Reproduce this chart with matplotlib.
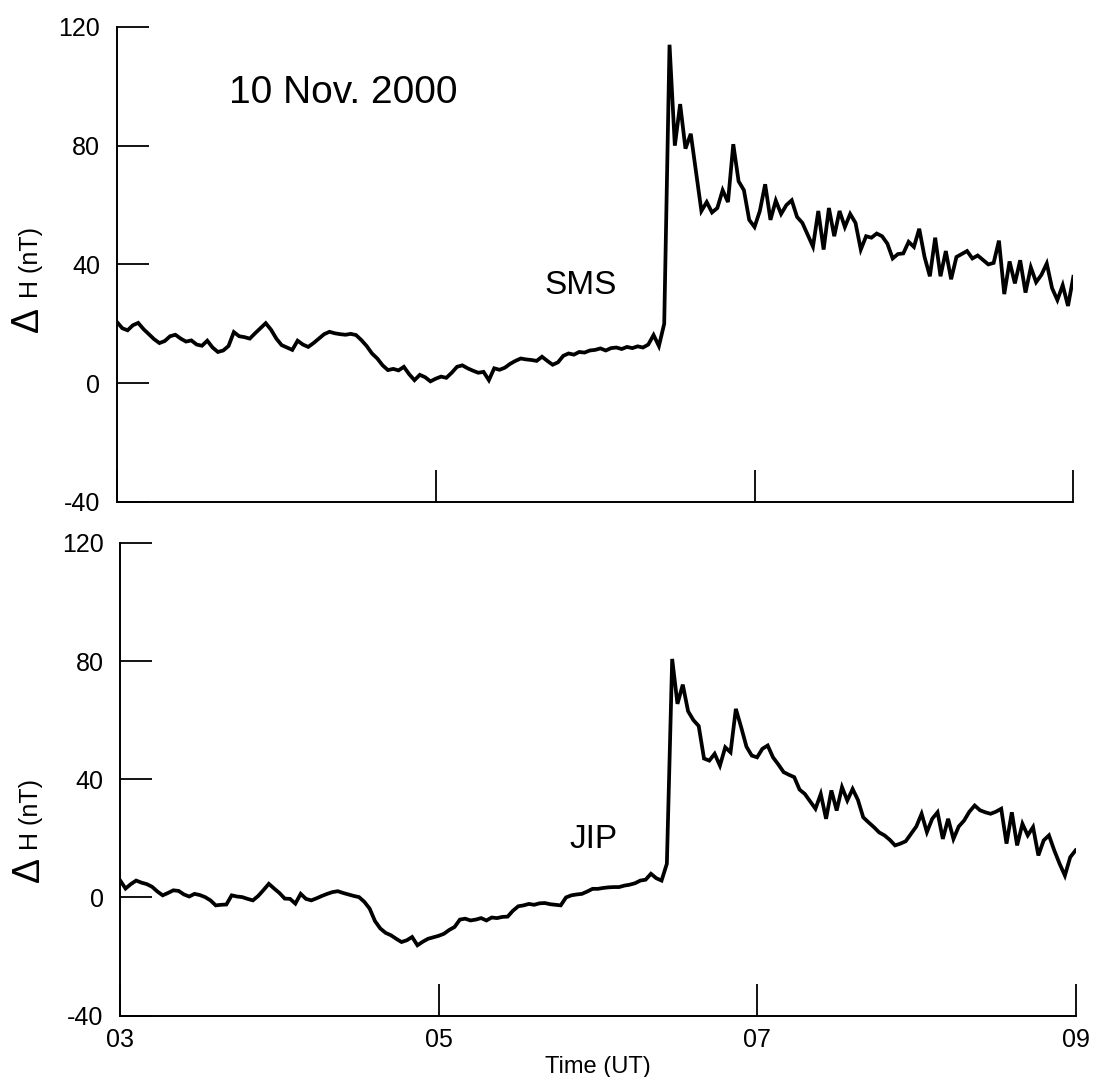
import numpy as np
import matplotlib
matplotlib.use("Agg")
import matplotlib.pyplot as plt

plt.rcParams['font.family'] = ['Liberation Sans', 'DejaVu Sans']

# tiempo en horas UT, muestreo cada 2 minutos (03:00 - 09:00)
tiempo = 3 + np.arange(181) * 2 / 60.0

# DELTA H EN SMS (nT)
dh_sms = [
    20.6, 18.5, 17.8, 19.5, 20.3, 18.2, 16.5, 14.8, 13.5, 14.2,
    15.8, 16.3, 15.0, 14.0, 14.4, 13.0, 12.6, 14.3, 12.0, 10.5,
    11.0, 12.5, 17.2, 15.8, 15.5, 15.0, 16.8, 18.5, 20.2, 18.0,
    15.0, 12.8, 12.0, 11.2, 14.3, 13.0, 12.2, 13.5, 15.0, 16.5,
    17.3, 16.8, 16.5, 16.3, 16.6, 16.2, 14.5, 12.5, 10.0, 8.3,
    6.0, 4.4, 4.8, 4.3, 5.5, 3.0, 1.0, 2.8, 2.0, 0.6,
    1.5, 2.2, 1.8, 3.5, 5.5, 6.0, 5.0, 4.2, 3.5, 3.8,
    1.0, 5.0, 4.5, 5.2, 6.5, 7.5, 8.3, 8.0, 7.8, 7.5,
    8.9, 7.5, 6.2, 7.0, 9.2, 10.0, 9.6, 10.5, 10.3, 11.0,
    11.2, 11.7, 11.0, 11.8, 12.0, 11.5, 12.2, 11.8, 12.4, 12.0,
    13.0, 16.2, 12.5, 20.0, 114.0, 80.0, 94.0, 79.0, 84.0, 71.0,
    58.0, 61.0, 57.5, 59.0, 65.0, 61.0, 80.5, 68.0, 65.0, 55.0,
    52.6, 58.0, 67.0, 55.0, 61.5, 57.0, 60.0, 61.6, 56.0, 54.0,
    50.0, 46.0, 58.0, 45.0, 59.0, 49.5, 58.0, 52.6, 57.0, 54.0,
    45.0, 49.5, 49.0, 50.4, 49.5, 47.0, 42.0, 43.5, 43.7, 47.6,
    45.9, 52.0, 42.5, 36.0, 49.0, 36.0, 44.5, 35.0, 42.5, 43.5,
    44.5, 42.0, 43.0, 41.5, 40.0, 40.5, 48.0, 30.0, 41.0, 33.6,
    41.4, 30.5, 39.0, 34.0, 36.5, 40.3, 32.0, 28.0, 33.0, 26.0,
    35.8,
]

# DELTA H EN JIP (nT)
dh_jip = [
    5.7, 3.0, 4.5, 5.7, 5.0, 4.5, 3.6, 2.0, 0.7, 1.5,
    2.4, 2.2, 1.0, 0.3, 1.2, 0.8, 0.1, -1.0, -2.7, -2.5,
    -2.4, 0.7, 0.3, 0.1, -0.5, -1.0, 0.5, 2.5, 4.6, 3.0,
    1.5, -0.4, -0.5, -2.1, 1.2, -0.5, -1.0, -0.3, 0.5, 1.2,
    1.8, 2.1, 1.5, 1.0, 0.5, 0.1, -1.5, -3.8, -8.0, -10.5,
    -12.0, -12.8, -14.0, -15.1, -14.5, -13.4, -16.2, -15.0, -14.0, -13.5,
    -13.0, -12.3, -11.0, -10.0, -7.5, -7.2, -7.8, -7.5, -7.0, -7.8,
    -6.8, -7.0, -6.6, -6.5, -4.5, -3.0, -2.7, -2.2, -2.5, -2.0,
    -1.9, -2.3, -2.5, -2.7, 0.0, 0.7, 1.0, 1.2, 2.0, 2.9,
    2.9, 3.2, 3.4, 3.5, 3.5, 4.0, 4.3, 4.8, 5.7, 6.0,
    8.0, 6.5, 5.7, 11.4, 80.7, 65.5, 72.0, 63.0, 60.0, 58.0,
    47.0, 46.3, 48.6, 44.6, 50.8, 49.1, 63.8, 57.6, 51.0, 48.0,
    47.4, 50.3, 51.4, 47.4, 45.0, 42.4, 41.5, 40.7, 36.5, 35.0,
    32.5, 30.0, 35.0, 26.6, 36.2, 29.4, 37.3, 32.8, 36.7, 33.0,
    27.1, 25.4, 23.8, 22.0, 21.0, 19.5, 17.6, 18.2, 19.0, 21.5,
    24.0, 28.3, 22.1, 26.6, 28.8, 19.8, 26.6, 19.8, 24.0, 26.0,
    29.0, 31.1, 29.5, 28.8, 28.3, 29.0, 30.0, 18.2, 28.8, 17.6,
    24.9, 21.0, 23.8, 14.2, 19.3, 21.0, 15.9, 11.4, 7.4, 13.6,
    15.9,
]

estaciones = ["SMS", "JIP"]
series = [dh_sms, dh_jip]

ticks_y = [-40, 0, 40, 80, 120]
ticks_x = [3, 5, 7, 9]
etiquetas_x = ["03", "05", "07", "09"]

fig = plt.figure(figsize=(10.93, 10.77), dpi=100)

# posiciones de los dos paneles
ax1 = fig.add_axes([0.107, 0.534, 0.875, 0.441])
ax2 = fig.add_axes([0.110, 0.057, 0.874, 0.439])

for ax, valores in zip([ax1, ax2], series):
    ax.plot(tiempo, valores, color="black", linewidth=2.7,
            solid_joinstyle="miter")
    ax.set_xlim(3, 9)
    ax.set_ylim(-40, 120)
    ax.spines["top"].set_visible(False)
    ax.spines["right"].set_visible(False)
    ax.spines["left"].set_linewidth(1.4)
    ax.spines["bottom"].set_linewidth(1.4)
    ax.set_yticks(ticks_y)
    ax.set_yticklabels([str(v) for v in ticks_y])
    ax.set_xticks(ticks_x)
    ax.tick_params(direction="in", length=23, width=1.3,
                   labelsize=18, pad=10)
    ax.tick_params(axis="y", pad=12)

ax1.set_xticklabels([])
ax2.set_xticklabels(etiquetas_x)
ax2.tick_params(axis="x", labelsize=18, pad=9)
ax2.set_xlabel("Time (UT)", fontsize=17, labelpad=3)

# ETIQUETAS DEL EJE Y (Delta mas grande)
ax1.text(-0.093, 0.383, "\u0394", rotation=90, fontsize=27,
         ha="center", va="center", transform=ax1.transAxes)
ax1.text(-0.090, 0.505, "H (nT)", rotation=90, fontsize=18,
         ha="center", va="center", transform=ax1.transAxes)
ax2.text(-0.096, 0.309, "\u0394", rotation=90, fontsize=27,
         ha="center", va="center", transform=ax2.transAxes)
ax2.text(-0.093, 0.425, "H (nT)", rotation=90, fontsize=18,
         ha="center", va="center", transform=ax2.transAxes)

# TEXTOS
ax1.text(0.237, 0.861, "10 Nov. 2000", fontsize=28,
         ha="center", va="center", transform=ax1.transAxes)
ax1.text(0.485, 0.455, estaciones[0], fontsize=24,
         ha="center", va="center", transform=ax1.transAxes)
ax2.text(0.495, 0.373, estaciones[1], fontsize=24,
         ha="center", va="center", transform=ax2.transAxes)

fig.savefig("out.png", dpi=100)
